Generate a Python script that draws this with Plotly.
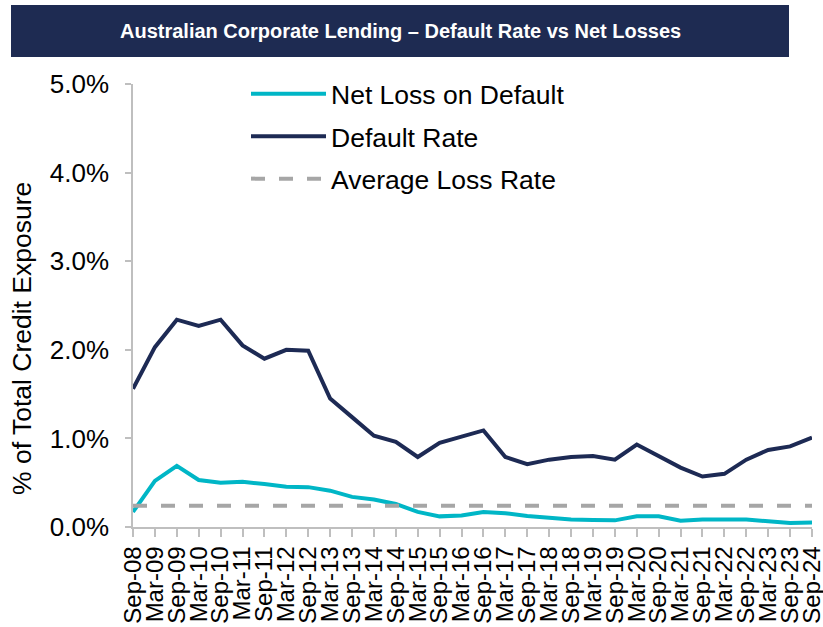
import plotly.graph_objects as go

categories = ["Sep-08", "Mar-09", "Sep-09", "Mar-10", "Sep-10", "Mar-11", "Sep-11", "Mar-12",
              "Sep-12", "Mar-13", "Sep-13", "Mar-14", "Sep-14", "Mar-15", "Sep-15", "Mar-16",
              "Sep-16", "Mar-17", "Sep-17", "Mar-18", "Sep-18", "Mar-19", "Sep-19", "Mar-20",
              "Sep-20", "Mar-21", "Sep-21", "Mar-22", "Sep-22", "Mar-23", "Sep-23", "Sep-24"]

default_rate = [1.56, 2.03, 2.34, 2.27, 2.34, 2.05, 1.90, 2.00,
                1.99, 1.45, 1.24, 1.03, 0.96, 0.79, 0.95, 1.02,
                1.09, 0.79, 0.71, 0.76, 0.79, 0.80, 0.76, 0.93,
                0.80, 0.67, 0.57, 0.60, 0.76, 0.87, 0.91, 1.01]

net_loss = [0.17, 0.52, 0.69, 0.53, 0.50, 0.51, 0.485, 0.455,
            0.45, 0.41, 0.34, 0.31, 0.26, 0.17, 0.12, 0.13,
            0.17, 0.155, 0.125, 0.10, 0.085, 0.08, 0.075, 0.12,
            0.12, 0.07, 0.085, 0.085, 0.085, 0.065, 0.045, 0.05]

average_loss_rate = 0.24
average_line = [average_loss_rate] * len(categories)

title_text = "Australian Corporate Lending \u2013 Default Rate vs Net Losses"
y_title = "% of Total Credit Exposure"

FONT = "Liberation Sans, Arial, sans-serif"
NAVY = "#1d2a54"
CYAN = "#00b6c6"
GREY = "#a6a6a6"
AXIS = "#bfbfbf"

fig = go.Figure()
fig.add_trace(go.Scatter(x=categories, y=net_loss, mode="lines", name="Net Loss on Default",
                         line=dict(color=CYAN, width=4), legendgroup="a"))
fig.add_trace(go.Scatter(x=categories, y=default_rate, mode="lines", name="Default Rate",
                         line=dict(color=NAVY, width=4), legendgroup="b"))
fig.add_trace(go.Scatter(x=categories, y=average_line, mode="lines", name="Average Loss Rate",
                         line=dict(color=GREY, width=4, dash="14px,14px"), legendgroup="c"))

W, H = 823, 627
L, R, T, B = 133, 11, 84, 100
pw, ph = W - L - R, H - T - B

fig.update_layout(
    width=W, height=H,
    margin=dict(l=L, r=R, t=T, b=B, autoexpand=False),
    paper_bgcolor="white", plot_bgcolor="white",
    font=dict(family=FONT, color="#000000"),
    showlegend=True,
    legend=dict(x=(246 - L) / pw, y=1 + (T - 70) / ph, xanchor="left", yanchor="top",
                font=dict(size=26.5, family=FONT, color="#000"),
                tracegroupgap=5, traceorder="grouped", itemwidth=75,
                bgcolor="rgba(0,0,0,0)"),
    xaxis=dict(type="category", range=[0, len(categories) - 1], automargin=False,
               tickmode="array", tickvals=categories, ticktext=categories,
               tickangle=-90, tickfont=dict(size=24, family=FONT, color="#000"),
               showline=True, linecolor=AXIS, linewidth=1.5,
               ticks="outside", ticklen=8, tickcolor=AXIS, tickwidth=1.5,
               showgrid=False, zeroline=False),
    yaxis=dict(range=[0, 5], tick0=0, dtick=1, tickformat=".1f", ticksuffix="%",
               automargin=False, ticklabelstandoff=11,
               tickfont=dict(size=26, family=FONT, color="#000"),
               showline=True, linecolor=AXIS, linewidth=1.5,
               ticks="outside", ticklen=6, tickcolor=AXIS, tickwidth=1.5,
               showgrid=False, zeroline=False),
    shapes=[dict(type="rect", xref="paper", yref="paper",
                 x0=(11 - L) / pw, x1=(789 - L) / pw,
                 y0=1 + (T - 57) / ph, y1=1 + (T - 5) / ph,
                 fillcolor="#1e2b52", line=dict(width=0), layer="below")],
    annotations=[
        dict(text="<b>" + title_text + "</b>", xref="paper", yref="paper",
             x=(400 - L) / pw, y=1 + (T - 31) / ph, xanchor="center", yanchor="middle",
             showarrow=False, font=dict(size=20, family=FONT, color="white")),
        dict(text=y_title, xref="paper", yref="paper", textangle=-90,
             x=(22 - L) / pw, y=(H - B - 339) / ph, xanchor="center", yanchor="middle",
             showarrow=False, font=dict(size=26.5, family=FONT, color="#000")),
    ],
)

fig.write_html("out.html", config={"displayModeBar": False},
               post_script="document.body.style.margin='0';document.body.style.overflow='hidden';")
